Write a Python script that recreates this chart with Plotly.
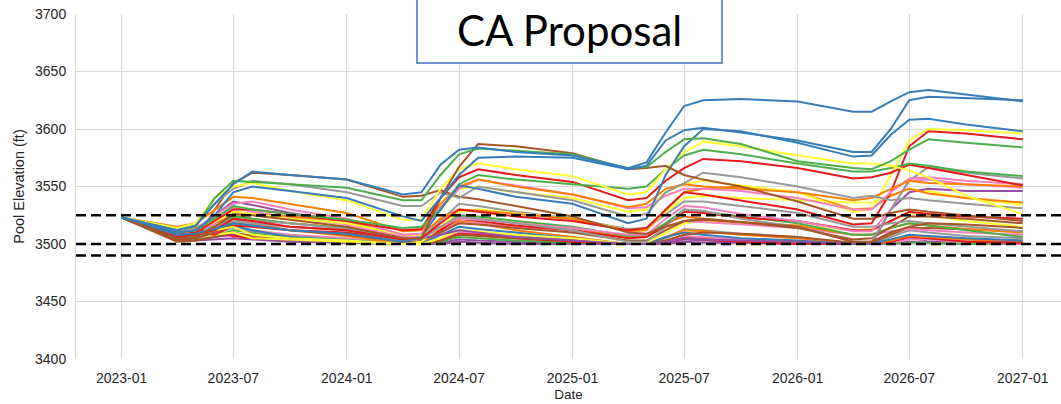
import plotly.graph_objects as go

dates = ["2023-01-01", "2023-04-01", "2023-05-01", "2023-06-01", "2023-07-01", "2023-08-01",
         "2023-10-01", "2024-01-01", "2024-04-01", "2024-05-01", "2024-06-01", "2024-07-01",
         "2024-08-01", "2024-10-01", "2025-01-01", "2025-04-01", "2025-05-01", "2025-06-01",
         "2025-07-01", "2025-08-01", "2025-10-01", "2026-01-01", "2026-04-01", "2026-05-01",
         "2026-06-01", "2026-07-01", "2026-08-01", "2026-10-01", "2027-01-01"]

blue_1 = [3523, 3512, 3516, 3535, 3552, 3563, 3560, 3556, 3543, 3545, 3569, 3582, 3584, 3580, 3577, 3566, 3571, 3597, 3620, 3625, 3626, 3624, 3615, 3615, 3624, 3632, 3634, 3630, 3624]
blue_2 = [3523, 3510, 3512, 3525, 3545, 3550, 3546, 3540, 3524, 3520, 3540, 3560, 3575, 3576, 3575, 3565, 3568, 3590, 3599, 3601, 3597, 3590, 3580, 3580, 3600, 3625, 3628, 3627, 3625]
blue_3 = [3523, 3508, 3509, 3513, 3518, 3516, 3512, 3509, 3502, 3506, 3530, 3551, 3548, 3541, 3535, 3518, 3522, 3560, 3585, 3600, 3598, 3588, 3576, 3577, 3595, 3608, 3609, 3604, 3598]
blue_4 = [3523, 3506, 3507, 3512, 3516, 3512, 3506, 3503, 3500, 3500, 3508, 3515, 3513, 3510, 3505, 3500, 3500, 3506, 3510, 3508, 3505, 3503, 3500, 3500, 3504, 3508, 3507, 3505, 3503]

brown_1 = [3523, 3505, 3506, 3515, 3526, 3525, 3521, 3515, 3505, 3505, 3540, 3567, 3587, 3585, 3579, 3565, 3566, 3568, 3560, 3556, 3550, 3537, 3522, 3522, 3527, 3530, 3528, 3525, 3520]
brown_2 = [3523, 3502, 3503, 3530, 3553, 3562, 3560, 3556, 3541, 3542, 3547, 3541, 3539, 3533, 3524, 3510, 3509, 3515, 3520, 3522, 3519, 3515, 3502, 3502, 3510, 3515, 3518, 3517, 3514]
brown_3 = [3523, 3504, 3505, 3510, 3518, 3516, 3512, 3508, 3502, 3503, 3510, 3518, 3517, 3514, 3510, 3503, 3503, 3512, 3520, 3521, 3519, 3514, 3504, 3505, 3515, 3524, 3524, 3522, 3518]
brown_4 = [3523, 3503, 3503, 3506, 3510, 3507, 3505, 3502, 3500, 3500, 3503, 3508, 3507, 3505, 3503, 3500, 3500, 3503, 3508, 3510, 3509, 3506, 3501, 3501, 3508, 3514, 3514, 3513, 3511]

green_1 = [3523, 3512, 3515, 3540, 3555, 3554, 3552, 3549, 3538, 3538, 3560, 3578, 3583, 3581, 3578, 3566, 3567, 3580, 3591, 3592, 3587, 3572, 3566, 3565, 3572, 3582, 3591, 3588, 3584]
green_2 = [3523, 3510, 3512, 3522, 3533, 3530, 3526, 3521, 3514, 3515, 3530, 3552, 3560, 3556, 3552, 3548, 3550, 3565, 3577, 3582, 3578, 3570, 3563, 3563, 3566, 3570, 3568, 3563, 3559]
green_3 = [3523, 3507, 3508, 3514, 3524, 3522, 3518, 3514, 3505, 3506, 3515, 3525, 3524, 3520, 3515, 3507, 3508, 3518, 3530, 3528, 3524, 3518, 3508, 3508, 3514, 3518, 3516, 3512, 3506]
green_4 = [3523, 3504, 3504, 3507, 3512, 3510, 3506, 3503, 3500, 3500, 3502, 3506, 3505, 3503, 3501, 3500, 3500, 3502, 3506, 3505, 3503, 3501, 3500, 3500, 3500, 3501, 3501, 3500, 3500]

yellow_1 = [3523, 3514, 3518, 3540, 3550, 3553, 3546, 3538, 3521, 3521, 3548, 3565, 3570, 3565, 3559, 3543, 3545, 3565, 3580, 3589, 3585, 3577, 3570, 3570, 3568, 3564, 3558, 3542, 3526]
yellow_2 = [3523, 3510, 3511, 3520, 3528, 3526, 3522, 3518, 3508, 3508, 3530, 3548, 3550, 3545, 3540, 3528, 3530, 3545, 3552, 3555, 3551, 3545, 3528, 3530, 3560, 3590, 3600, 3599, 3596]
yellow_3 = [3523, 3508, 3508, 3512, 3515, 3508, 3505, 3503, 3500, 3502, 3515, 3528, 3530, 3527, 3522, 3512, 3513, 3528, 3540, 3542, 3540, 3538, 3536, 3536, 3542, 3548, 3546, 3540, 3534]
yellow_4 = [3523, 3506, 3506, 3508, 3510, 3505, 3504, 3502, 3500, 3500, 3505, 3512, 3511, 3508, 3505, 3500, 3501, 3510, 3518, 3520, 3518, 3516, 3512, 3513, 3520, 3527, 3525, 3520, 3515]

red_1 = [3523, 3508, 3510, 3520, 3530, 3530, 3526, 3520, 3512, 3513, 3540, 3558, 3565, 3560, 3554, 3538, 3540, 3555, 3566, 3574, 3572, 3566, 3557, 3558, 3562, 3569, 3566, 3560, 3551]
red_2 = [3523, 3506, 3508, 3512, 3522, 3520, 3515, 3512, 3504, 3505, 3518, 3530, 3528, 3524, 3520, 3512, 3514, 3530, 3545, 3543, 3538, 3530, 3517, 3518, 3545, 3585, 3598, 3596, 3591]
red_3 = [3523, 3505, 3510, 3508, 3516, 3515, 3512, 3510, 3503, 3504, 3512, 3522, 3520, 3516, 3512, 3505, 3506, 3516, 3528, 3527, 3523, 3520, 3512, 3512, 3520, 3528, 3526, 3524, 3522]
red_4 = [3523, 3504, 3506, 3510, 3507, 3505, 3504, 3502, 3500, 3500, 3503, 3509, 3508, 3505, 3502, 3500, 3500, 3502, 3505, 3504, 3502, 3500, 3500, 3500, 3502, 3506, 3505, 3502, 3501]

orange_1 = [3523, 3515, 3518, 3530, 3541, 3540, 3535, 3527, 3511, 3512, 3535, 3550, 3556, 3550, 3543, 3532, 3535, 3548, 3552, 3550, 3548, 3545, 3538, 3540, 3548, 3555, 3553, 3552, 3550]
orange_2 = [3523, 3512, 3514, 3522, 3528, 3526, 3524, 3520, 3508, 3508, 3522, 3530, 3529, 3526, 3522, 3511, 3512, 3530, 3545, 3548, 3550, 3545, 3530, 3531, 3542, 3548, 3544, 3540, 3536]
orange_3 = [3523, 3509, 3510, 3518, 3525, 3522, 3518, 3514, 3504, 3505, 3514, 3524, 3522, 3518, 3514, 3506, 3507, 3518, 3524, 3522, 3519, 3516, 3508, 3508, 3514, 3518, 3516, 3513, 3510]
orange_4 = [3523, 3507, 3507, 3512, 3520, 3518, 3512, 3507, 3500, 3501, 3510, 3520, 3518, 3512, 3506, 3500, 3500, 3506, 3512, 3511, 3508, 3505, 3500, 3500, 3503, 3507, 3506, 3504, 3503]

pink_1 = [3523, 3511, 3513, 3525, 3535, 3537, 3530, 3522, 3508, 3509, 3532, 3548, 3556, 3551, 3543, 3531, 3532, 3542, 3548, 3548, 3546, 3540, 3530, 3530, 3545, 3557, 3558, 3555, 3552]
pink_2 = [3523, 3509, 3511, 3518, 3532, 3528, 3523, 3517, 3506, 3506, 3515, 3522, 3521, 3518, 3514, 3508, 3508, 3522, 3533, 3532, 3526, 3520, 3511, 3511, 3530, 3555, 3556, 3552, 3549]
pink_3 = [3523, 3507, 3508, 3512, 3522, 3518, 3515, 3512, 3504, 3504, 3512, 3518, 3518, 3515, 3512, 3506, 3507, 3515, 3520, 3519, 3517, 3514, 3508, 3508, 3511, 3513, 3512, 3510, 3508]
pink_4 = [3523, 3505, 3505, 3508, 3515, 3512, 3508, 3505, 3500, 3500, 3504, 3510, 3509, 3506, 3503, 3500, 3500, 3503, 3507, 3506, 3504, 3502, 3500, 3500, 3501, 3504, 3504, 3502, 3500]

gray_1 = [3523, 3514, 3516, 3535, 3548, 3555, 3552, 3545, 3533, 3533, 3545, 3540, 3550, 3545, 3538, 3524, 3526, 3545, 3553, 3562, 3558, 3550, 3540, 3542, 3538, 3540, 3538, 3535, 3531]
gray_2 = [3523, 3508, 3509, 3515, 3520, 3518, 3515, 3512, 3503, 3504, 3515, 3524, 3522, 3518, 3512, 3502, 3502, 3515, 3530, 3529, 3522, 3515, 3502, 3502, 3530, 3555, 3567, 3562, 3557]
gray_3 = [3523, 3510, 3511, 3516, 3522, 3520, 3518, 3513, 3505, 3505, 3520, 3535, 3533, 3528, 3522, 3513, 3514, 3526, 3537, 3537, 3533, 3527, 3515, 3515, 3518, 3520, 3518, 3515, 3511]
gray_4 = [3523, 3506, 3507, 3510, 3514, 3511, 3507, 3504, 3500, 3500, 3505, 3512, 3511, 3507, 3504, 3500, 3500, 3505, 3513, 3512, 3509, 3506, 3500, 3500, 3506, 3512, 3510, 3507, 3505]

purple_1 = [3523, 3507, 3509, 3525, 3537, 3534, 3527, 3520, 3505, 3505, 3508, 3512, 3510, 3506, 3503, 3500, 3500, 3502, 3505, 3504, 3503, 3502, 3500, 3500, 3530, 3545, 3548, 3546, 3546]
purple_2 = [3523, 3504, 3504, 3506, 3508, 3506, 3503, 3501, 3500, 3500, 3501, 3504, 3503, 3502, 3500, 3500, 3500, 3500, 3504, 3503, 3502, 3500, 3500, 3500, 3502, 3506, 3502, 3504, 3502]
purple_3 = [3523, 3503, 3503, 3504, 3505, 3504, 3502, 3501, 3500, 3500, 3500, 3502, 3501, 3500, 3500, 3500, 3500, 3500, 3502, 3501, 3501, 3500, 3500, 3500, 3500, 3502, 3501, 3500, 3500]

threshold_levels = [3525, 3500, 3490]
x_tick_dates = ["2023-01-01", "2023-07-01", "2024-01-01", "2024-07-01", "2025-01-01",
                "2025-07-01", "2026-01-01", "2026-07-01", "2027-01-01"]
x_tick_labels = ["2023-01", "2023-07", "2024-01", "2024-07", "2025-01",
                 "2025-07", "2026-01", "2026-07", "2027-01"]

RED, BLUE, GREEN, PURPLE, ORANGE, YELLOW, BROWN, PINK, GRAY = (
    "#e41a1c", "#377eb8", "#4daf4a", "#984ea3", "#ff7f00", "#ffff33", "#a65628", "#f781bf", "#999999")

series = [
    (purple_3, PURPLE), (purple_2, PURPLE), (green_4, GREEN), (pink_4, PINK), (red_4, RED),
    (gray_4, GRAY), (orange_4, ORANGE), (blue_4, BLUE), (brown_4, BROWN), (yellow_4, YELLOW),
    (pink_3, PINK), (orange_3, ORANGE), (green_3, GREEN), (red_3, RED), (brown_3, BROWN),
    (gray_3, GRAY), (yellow_3, YELLOW), (purple_1, PURPLE), (pink_2, PINK), (orange_2, ORANGE),
    (gray_2, GRAY), (red_2, RED), (yellow_2, YELLOW), (brown_2, BROWN), (pink_1, PINK),
    (orange_1, ORANGE), (gray_1, GRAY), (red_1, RED), (green_2, GREEN), (yellow_1, YELLOW),
    (blue_3, BLUE), (brown_1, BROWN), (green_1, GREEN), (blue_2, BLUE), (blue_1, BLUE),
]

fig = go.Figure()
for vals, col in series:
    fig.add_trace(go.Scatter(x=dates, y=vals, mode="lines",
                             line=dict(color=col, width=2), showlegend=False,
                             hoverinfo="skip"))

for lvl in threshold_levels:
    fig.add_shape(type="line", xref="paper", x0=0, x1=1, yref="y", y0=lvl, y1=lvl,
                  line=dict(color="black", width=2.5, dash="10px,5px"), layer="above")

# plot area in page pixels
L, PW, T, PH = 76, 985, 14, 345.5
def px2x(px):
    return (px - L) / PW
def px2y(py):
    return (T + PH - py) / PH

fig.add_shape(type="rect", xref="paper", yref="paper",
              x0=px2x(417), x1=px2x(722), y0=px2y(63), y1=px2y(-12),
              fillcolor="white", line=dict(color="#4472c4", width=1.5), layer="above")
fig.add_annotation(text="CA Proposal", xref="paper", yref="paper",
                   x=px2x(569), y=px2y(30), xanchor="center", yanchor="middle",
                   showarrow=False, font=dict(family="Lato", size=42, color="black"))

fig.update_layout(
    width=1061, height=404,
    margin=dict(l=76, r=0, t=14, b=44.5),
    paper_bgcolor="white", plot_bgcolor="white",
    font=dict(family="Liberation Sans, Arial", size=14, color="#262626"),
    xaxis=dict(range=["2022-10-19", "2027-03-04"], tickvals=x_tick_dates, ticktext=x_tick_labels,
               showgrid=True, gridcolor="#d9d9d9", gridwidth=1, zeroline=False,
               showline=False, ticks="outside", ticklen=6, tickcolor="rgba(0,0,0,0)",
               title=dict(text="Date", font=dict(size=13.5), standoff=4)),
    yaxis=dict(range=[3400, 3700], tickvals=[3400, 3450, 3500, 3550, 3600, 3650, 3700],
               showgrid=True, gridcolor="#d9d9d9", gridwidth=1, zeroline=False,
               showline=True, linecolor="#d9d9d9", linewidth=1,
               ticks="outside", ticklen=6, tickcolor="rgba(0,0,0,0)",
               title=dict(text="Pool Elevation (ft)", font=dict(size=14.5), standoff=6)),
)

fig.write_html("out.html", config={"displayModeBar": False},
               post_script="document.body.style.margin='0px';")
